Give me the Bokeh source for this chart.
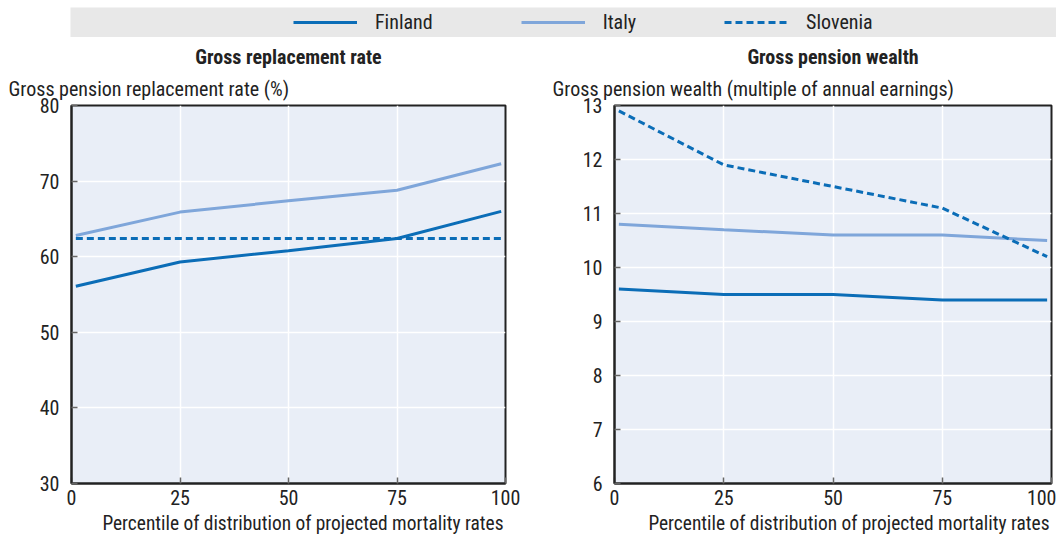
from bokeh.plotting import figure
from bokeh.models import (ColumnDataSource, FixedTicker, Range1d, Title, Legend, LegendItem)
from bokeh.layouts import column, row
from bokeh.embed import file_html
from bokeh.resources import INLINE

# ---- data ----
percentiles = [1, 25, 50, 75, 99]
x_ticks = [0, 25, 50, 75, 100]

grr_finland = [56.1, 59.3, 60.8, 62.4, 66.0]
grr_italy = [62.8, 65.9, 67.4, 68.8, 72.3]
grr_slovenia = [62.4, 62.4, 62.4, 62.4, 62.4]

gpw_finland = [9.6, 9.5, 9.5, 9.4, 9.4]
gpw_italy = [10.8, 10.7, 10.6, 10.6, 10.5]
gpw_slovenia = [12.9, 11.9, 11.5, 11.1, 10.2]

series_names = ["Finland", "Italy", "Slovenia"]

FONT = "Liberation Sans Narrow, Arial Narrow, Roboto Condensed, DejaVu Sans Condensed, sans-serif"
FS = "20px"
TXT = "#222222"
DARK = "#0B6DB7"
LIGHT = "#7FA6DA"
BG = "#E9EEF7"
styles = {
    "Finland": dict(line_color=DARK, line_width=3),
    "Italy": dict(line_color=LIGHT, line_width=3),
    "Slovenia": dict(line_color=DARK, line_width=3, line_dash="7 4"),
}


def make_panel(title, ylabel, yr, yticks, data, left_border, frame_w, right_border, ylabel_offset):
    p = figure(width=left_border + frame_w + right_border, height=506,
               x_range=Range1d(0, 100), y_range=Range1d(*yr),
               output_backend="svg", toolbar_location=None,
               min_border_left=left_border, min_border_right=right_border,
               min_border_top=68, min_border_bottom=60)
    p.background_fill_color = BG
    p.border_fill_color = "white"
    p.outline_line_color = "#222222"
    p.outline_line_width = 2
    p.xgrid.grid_line_color = "white"
    p.ygrid.grid_line_color = "white"
    p.xgrid.grid_line_width = 1.5
    p.ygrid.grid_line_width = 1.5
    p.xaxis.ticker = FixedTicker(ticks=x_ticks)
    p.yaxis.ticker = FixedTicker(ticks=yticks)
    for ax in (p.xaxis[0], p.yaxis[0]):
        ax.axis_line_color = "#222222"
        ax.axis_line_width = 2
        ax.major_tick_in = 6
        ax.major_tick_out = 0
        ax.major_tick_line_color = "#666666"
        ax.major_tick_line_width = 1.5
        ax.minor_tick_line_color = None
        ax.major_label_text_font = FONT
        ax.major_label_text_font_size = FS
        ax.major_label_text_color = TXT
    p.xaxis.major_label_standoff = 6
    p.yaxis.major_label_standoff = 12
    for name, ys in zip(series_names, data):
        src = ColumnDataSource(dict(x=percentiles, y=ys))
        p.line("x", "y", source=src, **styles[name])
    # titles above: first added is closest to frame
    p.add_layout(Title(text=ylabel, align="left", offset=ylabel_offset,
                       text_font=FONT, text_font_size=FS, text_font_style="normal",
                       text_color=TXT, standoff=10), "above")
    p.add_layout(Title(text=title, align="center",
                       text_font=FONT, text_font_size=FS, text_font_style="bold",
                       text_color=TXT, standoff=1), "above")
    p.add_layout(Title(text="Percentile of distribution of projected mortality rates",
                       align="right", offset=2, text_font=FONT, text_font_size="19.4px",
                       text_font_style="normal", text_color=TXT, standoff=4), "below")
    return p


p1 = make_panel("Gross replacement rate", "Gross pension replacement rate (%)",
                (30, 80), [30, 40, 50, 60, 70, 80],
                [grr_finland, grr_italy, grr_slovenia], 71, 434, 24, -63)
p2 = make_panel("Gross pension wealth", "Gross pension wealth (multiple of annual earnings)",
                (6, 13), [6, 7, 8, 9, 10, 11, 12, 13],
                [gpw_finland, gpw_italy, gpw_slovenia], 85, 437, 5, -62)

# ---- legend strip ----
leg = figure(width=1056, height=37, output_backend="svg", toolbar_location=None,
             x_range=Range1d(0, 1), y_range=Range1d(0, 1),
             min_border_left=70, min_border_right=0, min_border_top=7, min_border_bottom=0)
leg.axis.visible = False
leg.grid.visible = False
leg.outline_line_color = None
leg.background_fill_color = "#E8E8E8"
items = []
for name, ys in zip(series_names, [grr_finland, grr_italy, grr_slovenia]):
    # series data lie outside this strip's range; only the legend glyphs show
    r = leg.line(x=percentiles, y=ys, **styles[name])
    items.append(LegendItem(label=name, renderers=[r]))
legend = Legend(items=items, orientation="horizontal", location=(223, 3),
                background_fill_alpha=0, border_line_color=None,
                label_text_font=FONT, label_text_font_size=FS, label_text_color=TXT,
                glyph_width=64, glyph_height=20, label_height=20,
                label_standoff=18, spacing=88, padding=0, margin=0)
leg.add_layout(legend, "center")

layout = column(leg, row(p1, p2, spacing=0), spacing=0)
open("out.html", "w").write(file_html(layout, INLINE))
